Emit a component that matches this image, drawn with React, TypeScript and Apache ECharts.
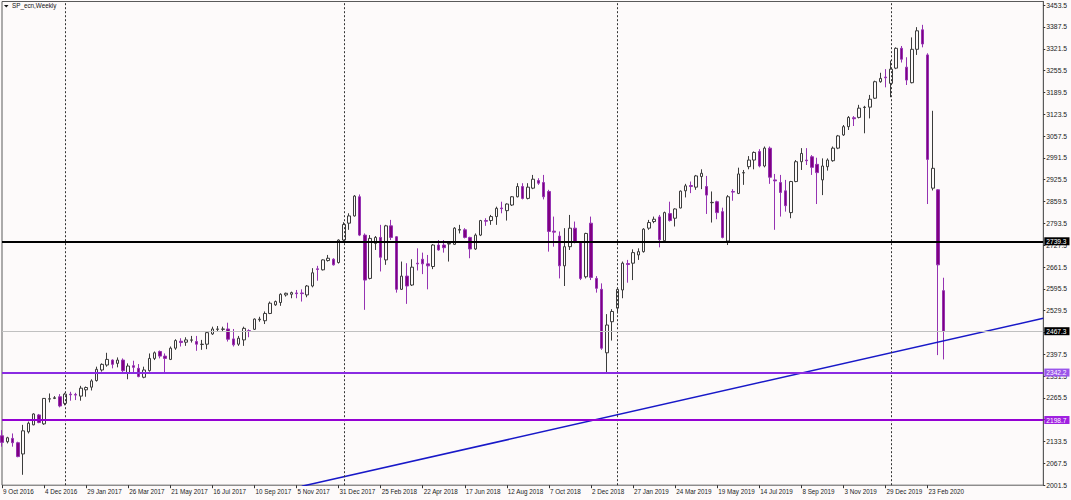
import React, { useEffect, useRef } from "react";
import * as echarts from "echarts";

// Weekly OHLC of SP_ecn, first bar = week of 9 Oct 2016
const opens = [
  2151, 2133, 2143, 2130, 2096, 2163, 2184, 2214, 2187, 2262,
  2264, 2269, 2249, 2277, 2276, 2271, 2290, 2298, 2318, 2350,
  2365, 2380, 2370, 2380, 2342, 2363, 2355, 2328, 2348, 2385,
  2406, 2392, 2382, 2416, 2437, 2434, 2440, 2436, 2427, 2428,
  2459, 2473, 2473, 2474, 2444, 2428, 2441, 2469, 2473, 2502,
  2499, 2521, 2547, 2554, 2577, 2579, 2583, 2583, 2577, 2604,
  2656, 2653, 2681, 2685, 2675, 2743, 2794, 2816, 2874, 2758,
  2627, 2733, 2751, 2683, 2786, 2753, 2594, 2634, 2607, 2673,
  2685, 2671, 2663, 2728, 2728, 2731, 2730, 2773, 2774, 2751,
  2716, 2758, 2802, 2802, 2814, 2840, 2832, 2849, 2874, 2905,
  2869, 2900, 2923, 2917, 2890, 2770, 2755, 2665, 2723, 2779,
  2735, 2632, 2794, 2627, 2594, 2402, 2496, 2537, 2592, 2672,
  2673, 2698, 2708, 2779, 2799, 2813, 2741, 2823, 2809, 2840,
  2892, 2908, 2903, 2935, 2905, 2856, 2859, 2829, 2740, 2890,
  2884, 2946, 2965, 2985, 3011, 2967, 3021, 2925, 2917, 2892,
  2826, 2920, 2980, 2985, 2995, 2972, 2925, 2965, 2983, 3021,
  3061, 3086, 3113, 3114, 3144, 3145, 3172, 3222, 3236, 3217,
  3263, 3323, 3266, 3219, 3320, 3379, 3303, 2900, 2895, 2590,
];
const highs = [
  2168, 2148, 2158, 2133, 2184, 2194, 2219, 2217, 2265, 2279,
  2271, 2277, 2281, 2284, 2281, 2302, 2300, 2322, 2360, 2370,
  2402, 2382, 2388, 2385, 2370, 2378, 2368, 2360, 2400, 2406,
  2409, 2400, 2421, 2443, 2446, 2449, 2453, 2453, 2441, 2466,
  2481, 2483, 2481, 2493, 2474, 2453, 2481, 2473, 2506, 2511,
  2527, 2557, 2560, 2582, 2584, 2587, 2592, 2594, 2607, 2658,
  2665, 2685, 2698, 2688, 2745, 2797, 2824, 2879, 2881, 2763,
  2758, 2755, 2789, 2789, 2804, 2755, 2678, 2673, 2685, 2718,
  2705, 2698, 2731, 2743, 2743, 2738, 2782, 2789, 2779, 2753,
  2763, 2804, 2809, 2819, 2844, 2859, 2854, 2876, 2915, 2915,
  2915, 2940, 2930, 2940, 2895, 2814, 2769, 2779, 2819, 2799,
  2738, 2765, 2814, 2634, 2612, 2519, 2534, 2600, 2678, 2683,
  2715, 2718, 2779, 2804, 2814, 2819, 2829, 2859, 2839, 2893,
  2913, 2920, 2940, 2957, 2937, 2890, 2862, 2841, 2879, 2897,
  2962, 2955, 2997, 3011, 3018, 3026, 3026, 2943, 2940, 2925,
  2922, 2985, 3021, 3021, 3000, 2992, 2990, 2990, 3026, 3061,
  3091, 3118, 3118, 3152, 3149, 3182, 3225, 3249, 3260, 3286,
  3326, 3330, 3296, 3356, 3387, 3394, 3308, 3134, 2897, 2629,
];
const lows = [
  2118, 2128, 2118, 2086, 2033, 2158, 2183, 2189, 2184, 2252,
  2262, 2237, 2243, 2257, 2259, 2257, 2269, 2288, 2315, 2345,
  2360, 2355, 2358, 2338, 2322, 2342, 2328, 2325, 2345, 2380,
  2385, 2343, 2380, 2411, 2421, 2423, 2433, 2408, 2411, 2413,
  2456, 2466, 2466, 2436, 2421, 2423, 2423, 2449, 2471, 2496,
  2489, 2519, 2544, 2544, 2572, 2567, 2567, 2557, 2570, 2600,
  2620, 2651, 2678, 2666, 2672, 2738, 2774, 2814, 2755, 2532,
  2624, 2713, 2648, 2668, 2743, 2584, 2592, 2550, 2604, 2651,
  2640, 2594, 2655, 2711, 2705, 2678, 2728, 2763, 2748, 2688,
  2713, 2755, 2786, 2789, 2789, 2824, 2802, 2846, 2872, 2866,
  2866, 2897, 2910, 2866, 2708, 2723, 2627, 2604, 2713, 2733,
  2622, 2627, 2622, 2584, 2411, 2340, 2439, 2521, 2567, 2614,
  2622, 2683, 2705, 2774, 2794, 2721, 2738, 2799, 2784, 2839,
  2872, 2885, 2895, 2897, 2822, 2796, 2806, 2748, 2728, 2862,
  2882, 2910, 2957, 2957, 2963, 2963, 2913, 2774, 2814, 2829,
  2809, 2918, 2955, 2970, 2940, 2852, 2879, 2953, 2980, 3018,
  3058, 3076, 3088, 3111, 3066, 3111, 3170, 3219, 3205, 3175,
  3260, 3280, 3212, 3217, 3303, 3326, 2852, 2893, 2395, 2382,
];
const closes = [
  2131, 2145, 2130, 2088, 2166, 2189, 2217, 2191, 2264, 2263,
  2266, 2241, 2277, 2275, 2274, 2295, 2297, 2317, 2352, 2367,
  2382, 2367, 2380, 2348, 2362, 2358, 2330, 2350, 2385, 2402,
  2392, 2385, 2416, 2439, 2433, 2441, 2441, 2428, 2428, 2463,
  2474, 2474, 2474, 2443, 2426, 2446, 2476, 2467, 2504, 2504,
  2521, 2552, 2557, 2579, 2582, 2584, 2581, 2581, 2604, 2644,
  2654, 2683, 2688, 2668, 2743, 2790, 2816, 2876, 2758, 2622,
  2748, 2751, 2691, 2786, 2751, 2594, 2634, 2604, 2661, 2671,
  2671, 2665, 2728, 2713, 2720, 2733, 2779, 2775, 2751, 2716,
  2758, 2802, 2800, 2814, 2839, 2838, 2852, 2874, 2905, 2869,
  2903, 2927, 2915, 2874, 2769, 2767, 2665, 2723, 2779, 2738,
  2627, 2763, 2630, 2597, 2416, 2486, 2527, 2594, 2673, 2669,
  2705, 2708, 2776, 2796, 2806, 2744, 2826, 2802, 2837, 2891,
  2907, 2905, 2937, 2945, 2879, 2857, 2826, 2751, 2874, 2888,
  2943, 2947, 2985, 3008, 2967, 3021, 2933, 2922, 2887, 2847,
  2920, 2980, 3005, 2983, 2963, 2947, 2967, 2985, 3021, 3058,
  3086, 3114, 3110, 3142, 3145, 3169, 3222, 3232, 3234, 3260,
  3323, 3290, 3227, 3320, 3376, 3336, 2987, 2960, 2668, 2467.3,
];

// Price scale labels on the right axis
const priceTicks = [
  2001.5, 2067.5, 2133.5, 2199.5, 2265.5, 2331.5, 2397.5, 2463.5, 2529.5, 2595.5, 2661.5, 2727.5,
  2793.5, 2859.5, 2925.5, 2991.5, 3057.5, 3123.5, 3189.5, 3255.5, 3321.5, 3387.5, 3453.5,
];

// Horizontal levels
const blackLevel = 2739.3;
const bidPrice = 2467.3;
const violetLevel = 2342.2;
const purpleLevel = 2198.7;

// Year separators (first weekly bar of each year)
const separatorWeeks = ["1 Jan 2017", "7 Jan 2018", "6 Jan 2019", "5 Jan 2020"];

// Trend line anchors [week, price]
const trendAnchors: [string, number][] = [
  ["12 Nov 2017", 1998.3],
  ["26 Jul 2020", 2506.2],
];

const TOTAL_SLOTS = 199; // bars + empty right margin of the chart
const BG = "#fdfafa";
const MONTHS = ["Jan", "Feb", "Mar", "Apr", "May", "Jun", "Jul", "Aug", "Sep", "Oct", "Nov", "Dec"];

function buildWeeks(): string[] {
  const start = Date.UTC(2016, 9, 9);
  const out: string[] = [];
  for (let i = 0; i < TOTAL_SLOTS; i++) {
    const d = new Date(start + i * 7 * 86400000);
    out.push(`${d.getUTCDate()} ${MONTHS[d.getUTCMonth()]} ${d.getUTCFullYear()}`);
  }
  return out;
}

export default function App() {
  const ref = useRef<HTMLDivElement>(null);

  useEffect(() => {
    if (!ref.current) return;
    const chart = echarts.init(ref.current, undefined, { renderer: "svg" });
    const weeks = buildWeeks();
    const nBars = opens.length;
    const candles = opens.map((o, i) => [o, closes[i], lows[i], highs[i]]);
    const showLabel = (idx: number) => idx % 8 === 0 && idx < nBars;
    const font = "Liberation Sans";

    const levelLabel = (bg: string) => ({
      show: true,
      position: "end",
      distance: 1,
      formatter: (p: any) => Number(p.value).toFixed(1),
      backgroundColor: bg,
      color: "#ffffff",
      fontFamily: font,
      fontSize: 6.6,
      lineHeight: 7,
      padding: [1, 3, 0, 2],
    });

    chart.setOption({
      animation: false,
      backgroundColor: BG,
      grid: {
        left: 1.5,
        top: 1.5,
        width: 1041.8,
        height: 483.7,
        show: true,
        borderColor: "#5a5a5a",
        borderWidth: 1,
        backgroundColor: "transparent",
      },
      graphic: [
        {
          type: "polygon",
          shape: { points: [[4, 5], [8.5, 5], [6.25, 7.5]] },
          style: { fill: "#111" },
        },
        {
          type: "text",
          left: 12,
          top: 2.5,
          style: { text: "SP_ecn,Weekly", font: `6.3px "${font}"`, fill: "#111" },
        },
      ],
      xAxis: {
        type: "category",
        data: weeks,
        boundaryGap: false,
        axisLine: { show: false },
        axisTick: {
          show: true,
          interval: (idx: number) => showLabel(idx),
          length: 3,
          lineStyle: { color: "#333" },
        },
        axisLabel: {
          interval: (idx: number) => showLabel(idx),
          align: "left",
          margin: 3,
          fontSize: 6.3,
          fontFamily: font,
          color: "#1a1a1a",
          padding: [0, 0, 0, 1],
        },
        splitLine: { show: false },
      },
      yAxis: {
        type: "value",
        position: "right",
        min: 2001.5,
        max: 3464.6,
        axisLine: { show: true, lineStyle: { color: "#5a5a5a" } },
        axisTick: { show: true, length: 2, customValues: priceTicks, lineStyle: { color: "#333" } },
        axisLabel: {
          customValues: priceTicks,
          formatter: (v: number) => v.toFixed(1),
          margin: 3,
          fontSize: 6.8,
          fontFamily: font,
          color: "#1a1a1a",
        },
        splitLine: { show: false },
      },
      series: [
        {
          type: "candlestick",
          data: candles,
          barWidth: 3,
          clip: true,
          itemStyle: {
            color: BG,
            color0: "#800080",
            borderColor: "#3c3c3c",
            borderColor0: "#9532b2",
            borderWidth: 1,
          },
          markLine: {
            silent: true,
            symbol: ["none", "none"],
            animation: false,
            data: [
              ...separatorWeeks.map((w) => ({
                xAxis: w,
                lineStyle: { color: "#333", width: 1, type: [2, 2] },
                label: { show: false },
              })),
              {
                yAxis: bidPrice,
                lineStyle: { color: "#c0c0c0", width: 1, type: "solid" },
                label: levelLabel("#000000"),
              },
              {
                yAxis: blackLevel,
                lineStyle: { color: "#000000", width: 2, type: "solid" },
                label: levelLabel("#000000"),
              },
              {
                yAxis: violetLevel,
                lineStyle: { color: "#8a2be2", width: 2, type: "solid" },
                label: levelLabel("#9a55ea"),
              },
              {
                yAxis: purpleLevel,
                lineStyle: { color: "#9400d3", width: 2, type: "solid" },
                label: levelLabel("#a020e0"),
              },
            ],
          },
        },
        {
          type: "line",
          data: trendAnchors,
          symbol: "none",
          clip: true,
          silent: true,
          lineStyle: { color: "#1818c8", width: 1.5 },
          z: 3,
        },
      ],
    });

    return () => chart.dispose();
  }, []);

  return (
    <div
      ref={ref}
      style={{ position: "absolute", left: 0, top: 0, width: 1071, height: 500 }}
    />
  );
}
